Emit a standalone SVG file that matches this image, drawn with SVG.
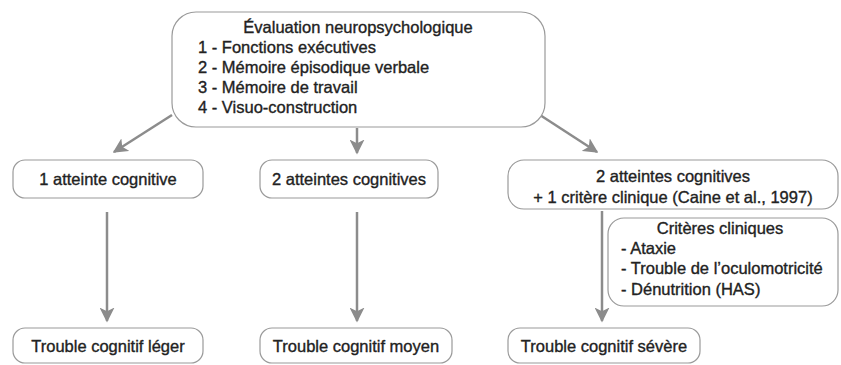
<svg xmlns="http://www.w3.org/2000/svg" width="841" height="365" viewBox="0 0 841 365">
<style>
.box{fill:#fff;stroke:#9a9a9a;stroke-width:1.2}
text{font-family:"Liberation Sans",Arial,sans-serif;font-size:16.5px;fill:#222;stroke:#222;stroke-width:0.35}
.c{text-anchor:middle}
.conn{stroke:#8c8c8c;stroke-width:2.5;fill:none}
</style>
<defs>
<marker id="ah" viewBox="0 0 10 10" refX="9" refY="5" markerWidth="6" markerHeight="6" orient="auto" markerUnits="strokeWidth">
<path d="M0,0 L10,5 L0,10 L2.5,5 z" fill="#8c8c8c"/>
</marker>
</defs>
<rect width="841" height="365" fill="#fff"/>
<g id="connectors">
<line class="conn" x1="172" y1="115" x2="114" y2="152" marker-end="url(#ah)"/>
<line class="conn" x1="357" y1="128" x2="357" y2="153" marker-end="url(#ah)"/>
<line class="conn" x1="540" y1="115" x2="597" y2="152" marker-end="url(#ah)"/>
<line class="conn" x1="107" y1="212" x2="107" y2="321" marker-end="url(#ah)"/>
<line class="conn" x1="357" y1="212" x2="357" y2="321" marker-end="url(#ah)"/>
<line class="conn" x1="602" y1="211" x2="602" y2="321" marker-end="url(#ah)"/>
</g>
<g id="eval">
<rect class="box" x="172" y="12" width="373" height="115" rx="24"/>
<text class="c" x="358" y="33">Évaluation neuropsychologique</text>
<text x="198" y="53">1 - Fonctions exécutives</text>
<text x="198" y="73">2 - Mémoire épisodique verbale</text>
<text x="198" y="93">3 - Mémoire de travail</text>
<text x="198" y="113">4 - Visuo-construction</text>
</g>
<g id="atteinte1">
<rect class="box" x="13" y="160" width="190" height="38" rx="12"/>
<text class="c" x="108" y="185">1 atteinte cognitive</text>
</g>
<g id="atteinte2">
<rect class="box" x="260" y="160" width="178" height="38" rx="12"/>
<text class="c" x="349" y="185">2 atteintes cognitives</text>
</g>
<g id="atteinte3">
<rect class="box" x="508" y="160" width="330" height="49" rx="16"/>
<text class="c" x="673" y="182">2 atteintes cognitives</text>
<text class="c" x="673" y="203">+ 1 critère clinique (Caine et al., 1997)</text>
</g>
<g id="criteres">
<rect class="box" x="608" y="218" width="230" height="88" rx="16"/>
<text class="c" x="720" y="234">Critères cliniques</text>
<text x="621" y="254">- Ataxie</text>
<text x="621" y="274">- Trouble de l’oculomotricité</text>
<text x="621" y="295">- Dénutrition (HAS)</text>
</g>
<g id="leger">
<rect class="box" x="13" y="328" width="190" height="35" rx="12"/>
<text class="c" x="108" y="352">Trouble cognitif léger</text>
</g>
<g id="moyen">
<rect class="box" x="260" y="328" width="192" height="35" rx="12"/>
<text class="c" x="356" y="352">Trouble cognitif moyen</text>
</g>
<g id="severe">
<rect class="box" x="508" y="328" width="192" height="35" rx="12"/>
<text class="c" x="604" y="352">Trouble cognitif sévère</text>
</g>
</svg>
